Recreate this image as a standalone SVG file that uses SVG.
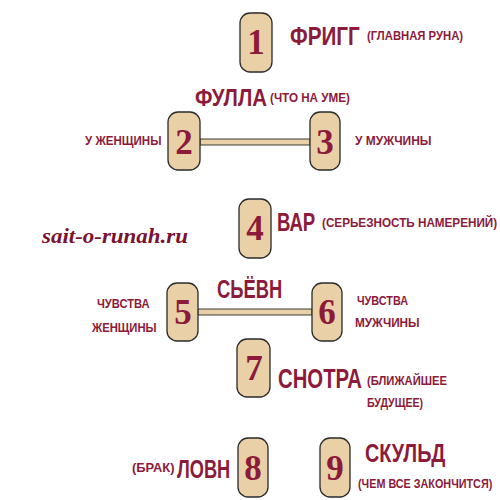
<svg xmlns="http://www.w3.org/2000/svg" width="500" height="500" viewBox="0 0 500 500">
<style>
.box{fill:#e9d0a6;stroke:#2a2a2a;stroke-width:1.3}
.bar{fill:#e9d0a6;stroke:#3a3a3a;stroke-width:1}
.num{font-family:"Liberation Serif",serif;font-weight:bold;font-size:35px;fill:#8c1a3a;text-anchor:middle}
.h{font-family:"Liberation Sans",sans-serif;font-weight:bold;font-size:25px;fill:#8c1a3a}
.s{font-family:"Liberation Sans",sans-serif;font-weight:bold;font-size:13px;fill:#8c1a3a}
.site{font-family:"Liberation Serif",serif;font-weight:bold;font-style:italic;font-size:21px;fill:#7a1232}
</style>
<rect width="500" height="500" fill="#ffffff"/>
<g id="connectors">
<rect class="bar" x="200" y="139" width="110" height="6"/>
<rect class="bar" x="198" y="309" width="114" height="6"/>
</g>
<g id="n1">
<rect class="box" x="240" y="13" width="32" height="59" rx="10"/>
<text class="num" x="256" y="54">1</text>
<text class="h" transform="translate(290,45) scale(0.75,1)" textLength="93" lengthAdjust="spacingAndGlyphs">ФРИГГ</text>
<text class="s" transform="translate(367,40) scale(0.85,1)" textLength="113" lengthAdjust="spacingAndGlyphs">(ГЛАВНАЯ РУНА)</text>
</g>
<g id="fulla">
<text class="h" transform="translate(195,106) scale(0.75,1)" textLength="96" lengthAdjust="spacingAndGlyphs" style="font-size:23px">ФУЛЛА</text>
<text class="s" transform="translate(270,102) scale(0.85,1)" textLength="94" lengthAdjust="spacingAndGlyphs" style="font-size:12px">(ЧТО НА УМЕ)</text>
</g>
<g id="n2">
<rect class="box" x="168" y="112" width="32" height="58" rx="10"/>
<text class="num" x="184" y="154">2</text>
<text class="s" transform="translate(85,145) scale(0.85,1)" textLength="90" lengthAdjust="spacingAndGlyphs">У ЖЕНЩИНЫ</text>
</g>
<g id="n3">
<rect class="box" x="310" y="112" width="30" height="58" rx="10"/>
<text class="num" x="325" y="154">3</text>
<text class="s" transform="translate(355,145) scale(0.85,1)" textLength="90" lengthAdjust="spacingAndGlyphs">У МУЖЧИНЫ</text>
</g>
<text class="site" x="42" y="243" textLength="146" lengthAdjust="spacingAndGlyphs">sait-o-runah.ru</text>
<g id="n4">
<rect class="box" x="239" y="199" width="32" height="59" rx="10"/>
<text class="num" x="255" y="240">4</text>
<text class="h" transform="translate(277,231) scale(0.75,1)" textLength="51" lengthAdjust="spacingAndGlyphs">ВАР</text>
<text class="s" transform="translate(322,227) scale(0.85,1)" textLength="206" lengthAdjust="spacingAndGlyphs">(СЕРЬЕЗНОСТЬ НАМЕРЕНИЙ)</text>
</g>
<text class="h" transform="translate(217,298) scale(0.75,1)" textLength="87" lengthAdjust="spacingAndGlyphs">СЬЁВН</text>
<g id="n5">
<rect class="box" x="167" y="283" width="31" height="58" rx="10"/>
<text class="num" x="183" y="324">5</text>
<text class="s" transform="translate(97,308) scale(0.85,1)" textLength="62" lengthAdjust="spacingAndGlyphs">ЧУВСТВА</text>
<text class="s" transform="translate(92,332) scale(0.85,1)" textLength="76" lengthAdjust="spacingAndGlyphs">ЖЕНЩИНЫ</text>
</g>
<g id="n6">
<rect class="box" x="312" y="283" width="30" height="58" rx="10"/>
<text class="num" x="327" y="324">6</text>
<text class="s" transform="translate(357,305) scale(0.85,1)" textLength="60" lengthAdjust="spacingAndGlyphs">ЧУВСТВА</text>
<text class="s" transform="translate(355,327) scale(0.85,1)" textLength="76" lengthAdjust="spacingAndGlyphs">МУЖЧИНЫ</text>
</g>
<g id="n7">
<rect class="box" x="237" y="339" width="33" height="58" rx="10"/>
<text class="num" x="254" y="380">7</text>
<text class="h" transform="translate(278,388) scale(0.75,1)" textLength="112" lengthAdjust="spacingAndGlyphs" style="font-size:27px">СНОТРА</text>
<text class="s" transform="translate(367,385) scale(0.85,1)" textLength="94" lengthAdjust="spacingAndGlyphs">(БЛИЖАЙШЕЕ</text>
<text class="s" transform="translate(367,407) scale(0.85,1)" textLength="66" lengthAdjust="spacingAndGlyphs">БУДУЩЕЕ)</text>
</g>
<g id="n8">
<rect class="box" x="238" y="438" width="30" height="59" rx="10"/>
<text class="num" x="253" y="480">8</text>
<text class="s" transform="translate(132,472) scale(0.85,1)" textLength="50" lengthAdjust="spacingAndGlyphs">(БРАК)</text>
<text class="h" transform="translate(177,478) scale(0.75,1)" textLength="71" lengthAdjust="spacingAndGlyphs">ЛОВН</text>
</g>
<g id="n9">
<rect class="box" x="320" y="438" width="30" height="59" rx="10"/>
<text class="num" x="335" y="480">9</text>
<text class="h" transform="translate(365,462) scale(0.75,1)" textLength="107" lengthAdjust="spacingAndGlyphs">СКУЛЬД</text>
<text class="s" transform="translate(358,488) scale(0.85,1)" textLength="158" lengthAdjust="spacingAndGlyphs">(ЧЕМ ВСЕ ЗАКОНЧИТСЯ)</text>
</g>
</svg>
